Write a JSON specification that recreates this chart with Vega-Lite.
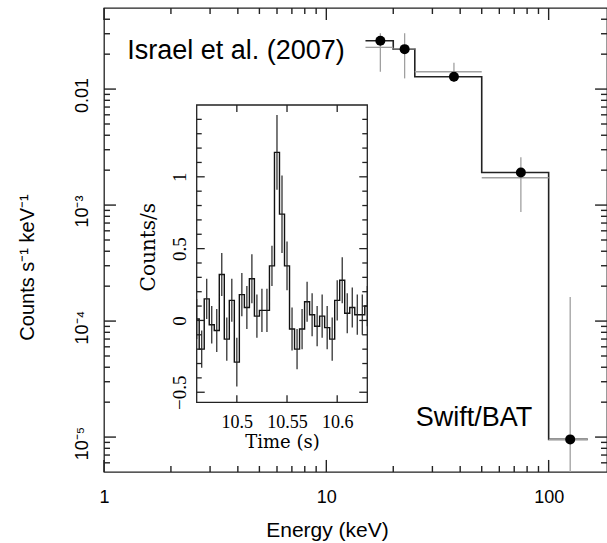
{
  "$schema": "https://vega.github.io/schema/vega-lite/v6.json",
  "width": 503,
  "height": 464,
  "autosize": {"type": "none"},
  "padding": {"left": 104, "top": 8, "right": 0, "bottom": 71},
  "background": "white",
  "config": {
    "view": {"stroke": "#222", "strokeWidth": 1.3},
    "axis": {"ticks": false, "domain": false, "labelColor": "#000", "titleColor": "#000", "grid": false, "titleFontWeight": "normal"}
  },
  "datasets": {
    "model": [
      {"E": 15, "flux": 0.0261},
      {"E": 20, "flux": 0.0221},
      {"E": 25, "flux": 0.01277},
      {"E": 50, "flux": 0.00191},
      {"E": 100, "flux": 0.00000955},
      {"E": 150, "flux": 0.00000955}
    ],
    "bat": [
      {"E": 17.5, "Elo": 15, "Ehi": 20, "flux": 0.0261, "data": 0.0229, "lo": 0.0141, "hi": 0.0303},
      {"E": 22.5, "Elo": 20, "Ehi": 25, "flux": 0.0221, "data": 0.0222, "lo": 0.01236, "hi": 0.0303},
      {"E": 37.5, "Elo": 25, "Ehi": 50, "flux": 0.01277, "data": 0.0141, "lo": 0.0115, "hi": 0.01687},
      {"E": 75, "Elo": 50, "Ehi": 100, "flux": 0.00191, "data": 0.00172, "lo": 0.000873, "hi": 0.00258},
      {"E": 125, "Elo": 100, "Ehi": 150, "flux": 0.00000955, "data": 0.00000955, "lo": 0.000001, "hi": 0.000161}
    ],
    "xmaj": [{"v": 1}, {"v": 10}, {"v": 100}],
    "xmin": [{"v": 2}, {"v": 3}, {"v": 4}, {"v": 5}, {"v": 6}, {"v": 7}, {"v": 8}, {"v": 9}, {"v": 20}, {"v": 30}, {"v": 40}, {"v": 50}, {"v": 60}, {"v": 70}, {"v": 80}, {"v": 90}],
    "ymaj": [{"v": 0.00001}, {"v": 0.0001}, {"v": 0.001}, {"v": 0.01}],
    "ymin": [{"v": 6e-6}, {"v": 7e-6}, {"v": 8e-6}, {"v": 9e-6}, {"v": 2e-5}, {"v": 3e-5}, {"v": 4e-5}, {"v": 5e-5}, {"v": 6e-5}, {"v": 7e-5}, {"v": 8e-5}, {"v": 9e-5}, {"v": 2e-4}, {"v": 3e-4}, {"v": 4e-4}, {"v": 5e-4}, {"v": 6e-4}, {"v": 7e-4}, {"v": 8e-4}, {"v": 9e-4}, {"v": 2e-3}, {"v": 3e-3}, {"v": 4e-3}, {"v": 5e-3}, {"v": 6e-3}, {"v": 7e-3}, {"v": 8e-3}, {"v": 9e-3}, {"v": 0.02}, {"v": 0.03}, {"v": 0.04}],
    "txmaj": [{"v": 10.5}, {"v": 10.55}, {"v": 10.6}],
    "tymaj": [{"v": -0.5}, {"v": 0}, {"v": 0.5}, {"v": 1}],
    "tymin": [{"v": -0.4}, {"v": -0.3}, {"v": -0.2}, {"v": -0.1}, {"v": 0.1}, {"v": 0.2}, {"v": 0.3}, {"v": 0.4}, {"v": 0.6}, {"v": 0.7}, {"v": 0.8}, {"v": 0.9}, {"v": 1.1}, {"v": 1.2}, {"v": 1.3}, {"v": 1.4}],
    "lc": [
      {"t": 10.46, "rate": 0.01, "lo": -0.13, "hi": 0.15},
      {"t": 10.465, "rate": -0.2, "lo": -0.33, "hi": -0.07},
      {"t": 10.47, "rate": 0.15, "lo": 0.01, "hi": 0.29},
      {"t": 10.475, "rate": -0.03, "lo": -0.16, "hi": 0.1},
      {"t": 10.48, "rate": -0.07, "lo": -0.22, "hi": 0.08},
      {"t": 10.485, "rate": 0.32, "lo": 0.17, "hi": 0.47},
      {"t": 10.49, "rate": -0.13, "lo": -0.28, "hi": 0.02},
      {"t": 10.495, "rate": 0.14, "lo": -0.01, "hi": 0.29},
      {"t": 10.5, "rate": -0.29, "lo": -0.46, "hi": -0.12},
      {"t": 10.505, "rate": 0.18, "lo": 0.03, "hi": 0.33},
      {"t": 10.51, "rate": 0.09, "lo": -0.06, "hi": 0.24},
      {"t": 10.515, "rate": 0.29, "lo": 0.12, "hi": 0.46},
      {"t": 10.52, "rate": 0.03, "lo": -0.12, "hi": 0.18},
      {"t": 10.525, "rate": 0.07, "lo": -0.08, "hi": 0.22},
      {"t": 10.53, "rate": 0.07, "lo": -0.08, "hi": 0.22},
      {"t": 10.535, "rate": 0.38, "lo": 0.24, "hi": 0.52},
      {"t": 10.54, "rate": 1.17, "lo": 0.91, "hi": 1.43},
      {"t": 10.545, "rate": 0.74, "lo": 0.47, "hi": 1.01},
      {"t": 10.55, "rate": 0.38, "lo": 0.21, "hi": 0.55},
      {"t": 10.555, "rate": -0.06, "lo": -0.21, "hi": 0.09},
      {"t": 10.56, "rate": -0.2, "lo": -0.34, "hi": -0.06},
      {"t": 10.565, "rate": -0.06, "lo": -0.2, "hi": 0.08},
      {"t": 10.57, "rate": 0.13, "lo": -0.01, "hi": 0.27},
      {"t": 10.575, "rate": 0.04, "lo": -0.11, "hi": 0.19},
      {"t": 10.58, "rate": -0.04, "lo": -0.18, "hi": 0.1},
      {"t": 10.585, "rate": 0.03, "lo": -0.12, "hi": 0.18},
      {"t": 10.59, "rate": -0.05, "lo": -0.2, "hi": 0.1},
      {"t": 10.595, "rate": -0.13, "lo": -0.28, "hi": 0.02},
      {"t": 10.6, "rate": 0.14, "lo": 0, "hi": 0.28},
      {"t": 10.605, "rate": 0.28, "lo": 0.12, "hi": 0.44},
      {"t": 10.61, "rate": 0.05, "lo": -0.09, "hi": 0.19},
      {"t": 10.615, "rate": 0.09, "lo": -0.05, "hi": 0.23},
      {"t": 10.62, "rate": 0.04, "lo": -0.1, "hi": 0.18},
      {"t": 10.625, "rate": 0.04, "lo": -0.1, "hi": 0.18},
      {"t": 10.63, "rate": 0.1, "lo": -0.04, "hi": 0.24}
    ]
  },
  "layer": [
    {
      "layer": [
        {
          "data": {"name": "model"},
          "mark": {"type": "line", "interpolate": "step-after", "color": "#222", "strokeWidth": 1.6},
          "encoding": {
            "x": {"field": "E", "type": "quantitative", "scale": {"type": "log", "domain": [1, 183], "nice": false},
              "axis": {"orient": "bottom", "values": [1, 10, 100], "format": "~g", "labelPadding": 16.5, "labelFont": "Liberation Sans", "labelFontSize": 18, "labelFlush": false, "labelOverlap": false, "labelBaseline": "top", "labelAlign": "center",
                "title": "Energy (keV)", "titleFont": "Liberation Sans", "titleFontSize": 21, "titleX": 223, "titleY": 64.4, "titleAlign": "center", "titleBaseline": "alphabetic"}},
            "y": {"field": "flux", "type": "quantitative", "scale": {"type": "log", "domain": [0.000005, 0.05], "nice": false},
              "axis": {"orient": "left", "values": [0.00001, 0.0001, 0.001, 0.01], "labelExpr": "datum.value > 0.005 ? '0.01' : datum.value > 0.0005 ? '10⁻³' : datum.value > 0.00005 ? '10⁻⁴' : '10⁻⁵'", "labelPadding": 17, "labelAngle": -90, "labelAlign": "center", "labelBaseline": "alphabetic", "labelOffset": 6, "labelFont": "Liberation Sans", "labelFontSize": 18, "labelOverlap": false, "labelFlush": false,
                "title": "Counts s⁻¹ keV⁻¹", "titleFont": "Liberation Sans", "titleFontSize": 20, "titleAngle": -90, "titleX": -71, "titleY": 259, "titleAlign": "center", "titleBaseline": "alphabetic"}}
          }
        },
        {
          "data": {"name": "bat"},
          "mark": {"type": "rule", "color": "#a0a0a0", "strokeWidth": 1.3},
          "encoding": {
            "x": {"field": "Elo", "type": "quantitative"},
            "x2": {"field": "Ehi"},
            "y": {"field": "data", "type": "quantitative"}
          }
        },
        {
          "data": {"name": "bat"},
          "mark": {"type": "rule", "color": "#a0a0a0", "strokeWidth": 1.3, "clip": true},
          "encoding": {
            "x": {"field": "E", "type": "quantitative"},
            "y": {"field": "lo", "type": "quantitative"},
            "y2": {"field": "hi"}
          }
        },
        {
          "data": {"name": "bat"},
          "mark": {"type": "point", "filled": true, "color": "#000", "opacity": 1, "size": 100},
          "encoding": {
            "x": {"field": "E", "type": "quantitative"},
            "y": {"field": "flux", "type": "quantitative"}
          }
        },
        {"data": {"name": "xmaj"}, "mark": {"type": "rule", "color": "#222", "strokeWidth": 1.4}, "encoding": {"x": {"field": "v", "type": "quantitative"}, "y": {"datum": 0.000005, "type": "quantitative"}, "y2": {"datum": 0.00000635}}},
        {"data": {"name": "xmin"}, "mark": {"type": "rule", "color": "#222", "strokeWidth": 1.4}, "encoding": {"x": {"field": "v", "type": "quantitative"}, "y": {"datum": 0.000005, "type": "quantitative"}, "y2": {"datum": 0.00000563}}},
        {"data": {"name": "xmaj"}, "mark": {"type": "rule", "color": "#222", "strokeWidth": 1.4}, "encoding": {"x": {"field": "v", "type": "quantitative"}, "y": {"datum": 0.0394, "type": "quantitative"}, "y2": {"datum": 0.05}}},
        {"data": {"name": "xmin"}, "mark": {"type": "rule", "color": "#222", "strokeWidth": 1.4}, "encoding": {"x": {"field": "v", "type": "quantitative"}, "y": {"datum": 0.0444, "type": "quantitative"}, "y2": {"datum": 0.05}}},
        {"data": {"name": "ymaj"}, "mark": {"type": "rule", "color": "#222", "strokeWidth": 1.4}, "encoding": {"y": {"field": "v", "type": "quantitative"}, "x": {"datum": 1, "type": "quantitative"}, "x2": {"datum": 1.132}}},
        {"data": {"name": "ymin"}, "mark": {"type": "rule", "color": "#222", "strokeWidth": 1.4}, "encoding": {"y": {"field": "v", "type": "quantitative"}, "x": {"datum": 1, "type": "quantitative"}, "x2": {"datum": 1.064}}},
        {"data": {"name": "ymaj"}, "mark": {"type": "rule", "color": "#222", "strokeWidth": 1.4}, "encoding": {"y": {"field": "v", "type": "quantitative"}, "x": {"datum": 161.7, "type": "quantitative"}, "x2": {"datum": 183}}},
        {"data": {"name": "ymin"}, "mark": {"type": "rule", "color": "#222", "strokeWidth": 1.4}, "encoding": {"y": {"field": "v", "type": "quantitative"}, "x": {"datum": 172, "type": "quantitative"}, "x2": {"datum": 183}}},
        {
          "data": {"values": [{}]},
          "mark": {"type": "text", "text": "Israel et al. (2007)", "font": "Liberation Sans", "fontSize": 27, "align": "left", "baseline": "alphabetic", "color": "#000"},
          "encoding": {
            "x": {"datum": 1.272, "type": "quantitative"},
            "y": {"datum": 0.01817, "type": "quantitative"}
          }
        },
        {
          "data": {"values": [{}]},
          "mark": {"type": "text", "text": "Swift/BAT", "font": "Liberation Sans", "fontSize": 27, "align": "right", "baseline": "alphabetic", "color": "#000"},
          "encoding": {
            "x": {"datum": 84.4, "type": "quantitative"},
            "y": {"datum": 0.00001253, "type": "quantitative"}
          }
        }
      ]
    },
    {
      "layer": [
        {
          "data": {"name": "lc"},
          "mark": {"type": "line", "interpolate": "step", "color": "#111", "strokeWidth": 1.4},
          "encoding": {
            "x": {"field": "t", "type": "quantitative", "scale": {"domain": [10.46, 10.63], "range": [92.7, 263.3], "nice": false, "zero": false},
              "axis": {"orient": "bottom", "offset": -69.7, "values": [10.5, 10.55, 10.6], "format": "~g", "labelPadding": 11.5, "labelFont": "Liberation Serif", "labelFontSize": 18, "labelFlush": false, "labelOverlap": false, "labelBaseline": "top", "labelAlign": "center",
                "title": "Time (s)", "titleFont": "DejaVu Serif", "titleFontSize": 18, "titleX": 178, "titleY": 45, "titleAlign": "center", "titleBaseline": "alphabetic"}},
            "y": {"field": "rate", "type": "quantitative", "scale": {"domain": [-0.57, 1.5], "range": [394.3, 97], "nice": false, "zero": false},
              "axis": {"orient": "left", "offset": -92.7, "values": [-0.5, 0, 0.5, 1], "format": "~g",
                "labelPadding": 11.7, "labelAngle": -90, "labelAlign": "center", "labelBaseline": "alphabetic", "labelFont": "Liberation Serif", "labelFontSize": 19, "labelOverlap": false, "labelFlush": false,
                "title": "Counts/s", "titleFont": "DejaVu Serif", "titleFontSize": 20, "titleAngle": -90, "titleX": -42.7, "titleY": 238.7, "titleAlign": "center", "titleBaseline": "alphabetic"}}
          }
        },
        {
          "data": {"name": "lc"},
          "mark": {"type": "rule", "color": "#222", "strokeWidth": 1.2},
          "encoding": {
            "x": {"field": "t", "type": "quantitative"},
            "y": {"field": "lo", "type": "quantitative"},
            "y2": {"field": "hi"}
          }
        },
        {"data": {"name": "txmaj"}, "mark": {"type": "rule", "color": "#222", "strokeWidth": 1.3}, "encoding": {"x": {"field": "v", "type": "quantitative"}, "y": {"datum": -0.57, "type": "quantitative"}, "y2": {"datum": -0.521}}},
        {"data": {"name": "txmaj"}, "mark": {"type": "rule", "color": "#222", "strokeWidth": 1.3}, "encoding": {"x": {"field": "v", "type": "quantitative"}, "y": {"datum": 1.451, "type": "quantitative"}, "y2": {"datum": 1.5}}},
        {"data": {"name": "tymaj"}, "mark": {"type": "rule", "color": "#222", "strokeWidth": 1.3}, "encoding": {"y": {"field": "v", "type": "quantitative"}, "x": {"datum": 10.46, "type": "quantitative"}, "x2": {"datum": 10.468}}},
        {"data": {"name": "tymin"}, "mark": {"type": "rule", "color": "#222", "strokeWidth": 1.3}, "encoding": {"y": {"field": "v", "type": "quantitative"}, "x": {"datum": 10.46, "type": "quantitative"}, "x2": {"datum": 10.465}}},
        {"data": {"name": "tymaj"}, "mark": {"type": "rule", "color": "#222", "strokeWidth": 1.3}, "encoding": {"y": {"field": "v", "type": "quantitative"}, "x": {"datum": 10.622, "type": "quantitative"}, "x2": {"datum": 10.63}}},
        {"data": {"name": "tymin"}, "mark": {"type": "rule", "color": "#222", "strokeWidth": 1.3}, "encoding": {"y": {"field": "v", "type": "quantitative"}, "x": {"datum": 10.625, "type": "quantitative"}, "x2": {"datum": 10.63}}},
        {
          "data": {"values": [{}]},
          "mark": {"type": "rect", "fill": null, "fillOpacity": 0, "stroke": "#222", "strokeWidth": 1.3},
          "encoding": {
            "x": {"datum": 10.46, "type": "quantitative"},
            "x2": {"datum": 10.63},
            "y": {"datum": -0.57, "type": "quantitative"},
            "y2": {"datum": 1.5}
          }
        }
      ]
    }
  ],
  "resolve": {"scale": {"x": "independent", "y": "independent"}}
}
